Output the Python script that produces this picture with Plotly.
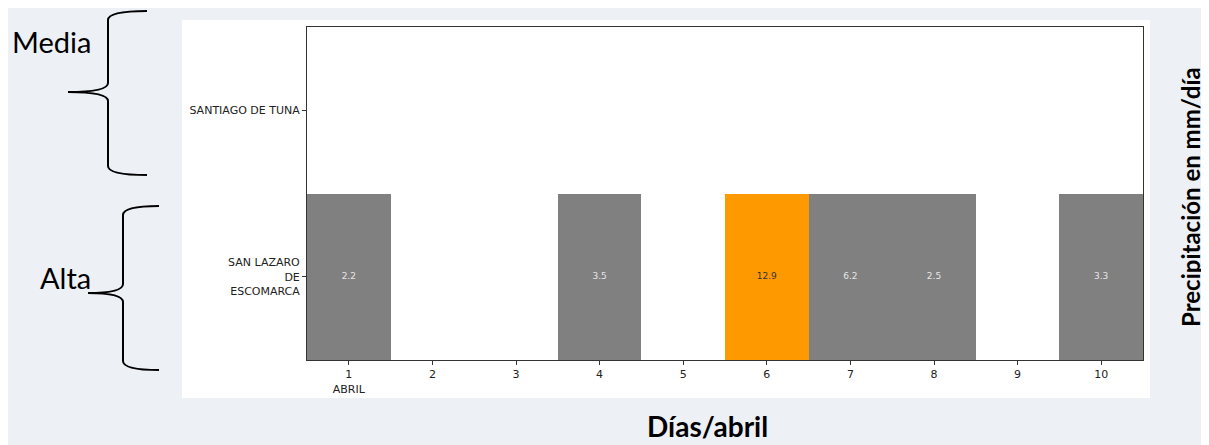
import plotly.graph_objects as go

# ---- data ----
days = [1, 2, 3, 4, 5, 6, 7, 8, 9, 10]
day_labels = ["1<br>ABRIL", "2", "3", "4", "5", "6", "7", "8", "9", "10"]
stations = ["SAN LAZARO<br>DE<br>ESCOMARCA", "SANTIAGO DE TUNA"]
san_lazaro = [2.2, None, None, 3.5, None, 12.9, 6.2, 2.5, None, 3.3]
santiago = [None, None, None, None, None, None, None, None, None, None]
levels = ["Alta", "Media"]

W, H = 1209, 445
OFF = 8  # page body offset
L, R, T, B = 307 - OFF, 1143 - OFF, 27 - OFF, 360 - OFF  # plot area in figure pixels


def px(x):
    return (x - OFF - L) / (R - L)


def py(y):
    return (B - (y - OFF)) / (B - T)


z = [san_lazaro, santiago]

fig = go.Figure()
fig.add_trace(go.Heatmap(
    x=days, y=stations, z=z,
    zmin=0, zmax=15,
    colorscale=[[0, "#808080"], [0.66, "#808080"], [0.66, "#ff9900"], [1, "#ff9900"]],
    showscale=False, hoverongaps=False,
))

# cell labels
tx, ty, tt, tc = [], [], [], []
for row, name in zip(z, stations):
    for d, v in zip(days, row):
        if v is not None:
            tx.append(d)
            ty.append(name)
            tt.append(f"{v}")
            tc.append("#333333" if v > 10 else "#e6e6e6")
fig.add_trace(go.Scatter(
    x=tx, y=ty, text=tt, mode="text",
    textfont=dict(family="DejaVu Sans", size=9, color=tc),
    hoverinfo="skip", showlegend=False,
))

shapes = []
# white panel
shapes.append(dict(type="rect", xref="paper", yref="paper",
                   x0=px(182), x1=px(1150), y0=py(20), y1=py(398),
                   fillcolor="white", line=dict(width=0), layer="below"))


def brace(xv, xend, xtip, ytop, ytip, ybot):
    r = 9
    p = (f"M {px(xend)},{py(ytop)} "
         f"Q {px(xv)},{py(ytop)} {px(xv)},{py(ytop + r)} "
         f"L {px(xv)},{py(ytip - r)} "
         f"Q {px(xv)},{py(ytip)} {px(xtip)},{py(ytip)} "
         f"Q {px(xv)},{py(ytip)} {px(xv)},{py(ytip + r)} "
         f"L {px(xv)},{py(ybot - r)} "
         f"Q {px(xv)},{py(ybot)} {px(xend)},{py(ybot)}")
    return dict(type="path", xref="paper", yref="paper", path=p,
                line=dict(color="black", width=2))


shapes.append(brace(108, 147, 68, 11, 92, 175))
shapes.append(brace(123, 159, 88, 206, 293, 370))


def ann(text, x, y, size, angle=0):
    return dict(text=text, x=px(x), y=py(y), xref="paper", yref="paper",
                xanchor="center", yanchor="middle", showarrow=False,
                textangle=angle, font=dict(family="Lato", size=size, color="black"))


annotations = [
    ann(levels[1], 51, 42, 29),
    ann(levels[0], 65, 277, 29),
    ann("<b>Precipitación en mm/día</b>", 1190, 197, 24, -90),
    ann("<b>Días/abril</b>", 707, 426, 28),
]

fig.update_layout(
    width=W, height=H,
    margin=dict(l=L, r=W - R, t=T, b=H - B),
    paper_bgcolor="#edf0f5", plot_bgcolor="white",
    shapes=shapes, annotations=annotations,
    showlegend=False,
)
fig.update_xaxes(
    range=[0.5, 10.5], tickvals=days, ticktext=day_labels,
    showgrid=False, zeroline=False, ticks="outside", ticklen=4,
    tickcolor="#333", showline=True, linecolor="#333", linewidth=1, mirror=True,
    tickfont=dict(family="DejaVu Sans", size=11, color="#222"),
)
fig.update_yaxes(
    type="category", categoryorder="array", categoryarray=stations,
    range=[-0.5, 1.5], showgrid=False, zeroline=False,
    ticks="outside", ticklen=4, tickcolor="#333",
    showline=True, linecolor="#333", linewidth=1, mirror=True,
    tickfont=dict(family="DejaVu Sans", size=11, color="#222"),
)

fig.write_html("out.html")
